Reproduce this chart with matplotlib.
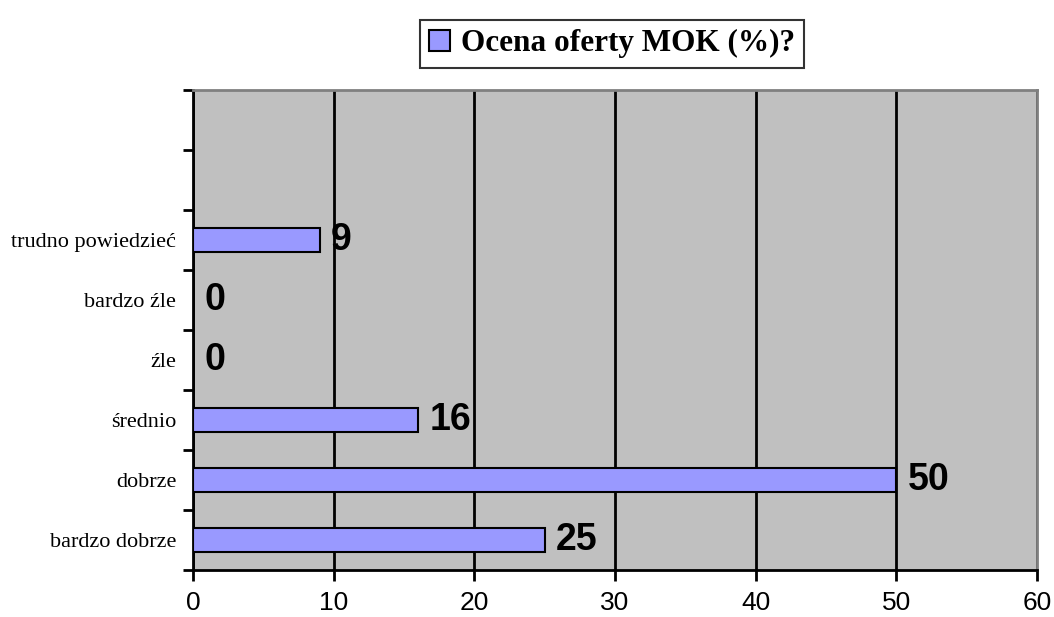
import matplotlib.pyplot as plt
from matplotlib.patches import Patch

categories = ['bardzo dobrze', 'dobrze', 'średnio', 'źle', 'bardzo źle', 'trudno powiedzieć', '', '']
values = [25, 50, 16, 0, 0, 9]
xticks = [0, 10, 20, 30, 40, 50, 60]
series_name = 'Ocena oferty MOK (%)?'

fig = plt.figure(figsize=(10.54, 6.17), dpi=100)
ax = fig.add_axes([193 / 1054, 1 - 570 / 617, (1037 - 193) / 1054, (570 - 90) / 617])
ax.set_facecolor('#C0C0C0')

ypos = list(range(len(values)))
ax.barh(ypos, values, height=0.4, color='#9999FF', edgecolor='black', linewidth=1.5, zorder=3)
for y, v in zip(ypos, values):
    ax.text(v + 0.8, y, str(v), va='center', ha='left', fontsize=27, fontweight='bold',
            family='Liberation Sans', zorder=4)

ax.set_xlim(0, 60)
ax.set_ylim(-0.5, len(categories) - 0.5)
ax.set_xticks(xticks)
ax.set_xticklabels([str(t) for t in xticks], family='Liberation Sans', fontsize=19)
ax.set_yticks([i - 0.5 for i in range(len(categories) + 1)])
ax.set_yticklabels([])
ax.set_yticks(range(len(categories)), minor=True)
ax.set_yticklabels(categories, minor=True, family='Liberation Serif', fontsize=16)
ax.tick_params(axis='y', which='minor', length=0, pad=12)
ax.tick_params(axis='y', which='major', length=7, width=2, direction='out')
ax.tick_params(axis='x', length=8, width=2, direction='out', pad=7)

ax.xaxis.grid(True, color='black', linewidth=2, zorder=1)
ax.set_axisbelow(True)
for s in ['top', 'right']:
    ax.spines[s].set_color('#808080')
    ax.spines[s].set_linewidth(2)
for s in ['left', 'bottom']:
    ax.spines[s].set_color('black')
    ax.spines[s].set_linewidth(2)

handle = Patch(facecolor='#9999FF', edgecolor='black', linewidth=1.5)
leg = fig.legend([handle], [series_name], loc='upper left', bbox_to_anchor=(420 / 1054, 1 - 20 / 617),
                 prop={'family': 'Liberation Serif', 'weight': 'bold', 'size': 22.5},
                 frameon=True, fancybox=False, edgecolor='black', handlelength=0.65,
                 handleheight=0.65, handletextpad=0.35, borderpad=0.3, borderaxespad=0)
leg.get_frame().set_linewidth(1.5)

fig.savefig('out.png', dpi=100)
